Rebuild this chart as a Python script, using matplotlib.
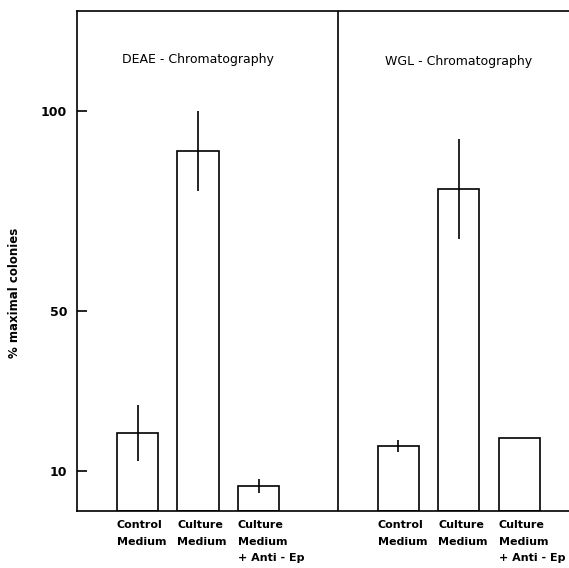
import numpy as np
import matplotlib.pyplot as plt

# values (% maximal colonies)
deae_labels = ["Control\nMedium", "Culture\nMedium", "Culture\nMedium\n+ Anti - Ep"]
deae_values = [19.5, 90, 6.25]
deae_err = [7, 10, 1.75]

wgl_labels = ["Control\nMedium", "Culture\nMedium", "Culture\nMedium\n+ Anti - Ep"]
wgl_values = [16.25, 80.5, 18.25]
wgl_err = [1.6, 12.5, 0]

yticks = [10, 50, 100]

fig = plt.figure(figsize=(5.69, 5.68), dpi=100)
ax = fig.add_axes([77/569, 57/568, 492/569, 500/568])

x1 = np.array([1, 2, 3])
x2 = np.array([5.31, 6.31, 7.31])
w = 0.68
lw = 1.2

ax.bar(x1, deae_values, width=w, facecolor="white", edgecolor="black", linewidth=lw)
ax.bar(x2, wgl_values, width=w, facecolor="white", edgecolor="black", linewidth=lw)
ax.errorbar(x1, deae_values, yerr=deae_err, fmt="none", ecolor="black", elinewidth=lw, capsize=0)
ax.errorbar(x2[:2], wgl_values[:2], yerr=wgl_err[:2], fmt="none", ecolor="black", elinewidth=lw, capsize=0)

ax.axvline(4.31, color="black", linewidth=lw)

ax.set_xlim(0, 8.13)
ax.set_ylim(0, 125)
ax.set_xticks([])
ax.set_yticks(yticks)
ax.set_yticklabels([str(t) for t in yticks], fontsize=9, fontweight="bold")
ax.tick_params(axis="y", direction="in", length=7, width=lw, pad=7)

for s in ["left", "bottom", "top"]:
    ax.spines[s].set_linewidth(lw)
ax.spines["right"].set_visible(False)

# category labels under the bars, left aligned to the bar edge
for xs, labels in [(x1, deae_labels), (x2, wgl_labels)]:
    for x, lab in zip(xs, labels):
        ax.text(x - w/2, -2.3, lab, ha="left", va="top", fontsize=8, fontweight="bold",
                linespacing=1.8, clip_on=False)

ax.text(2.0, 113, "DEAE - Chromatography", ha="center", va="center", fontsize=9)
ax.text(6.31, 112.5, "WGL - Chromatography", ha="center", va="center", fontsize=9)

fig.text(15/569, 1 - 293/568, "% maximal colonies", rotation=90, ha="center", va="center",
         fontsize=8.5, fontweight="bold")

fig.savefig("out.png", dpi=100)
